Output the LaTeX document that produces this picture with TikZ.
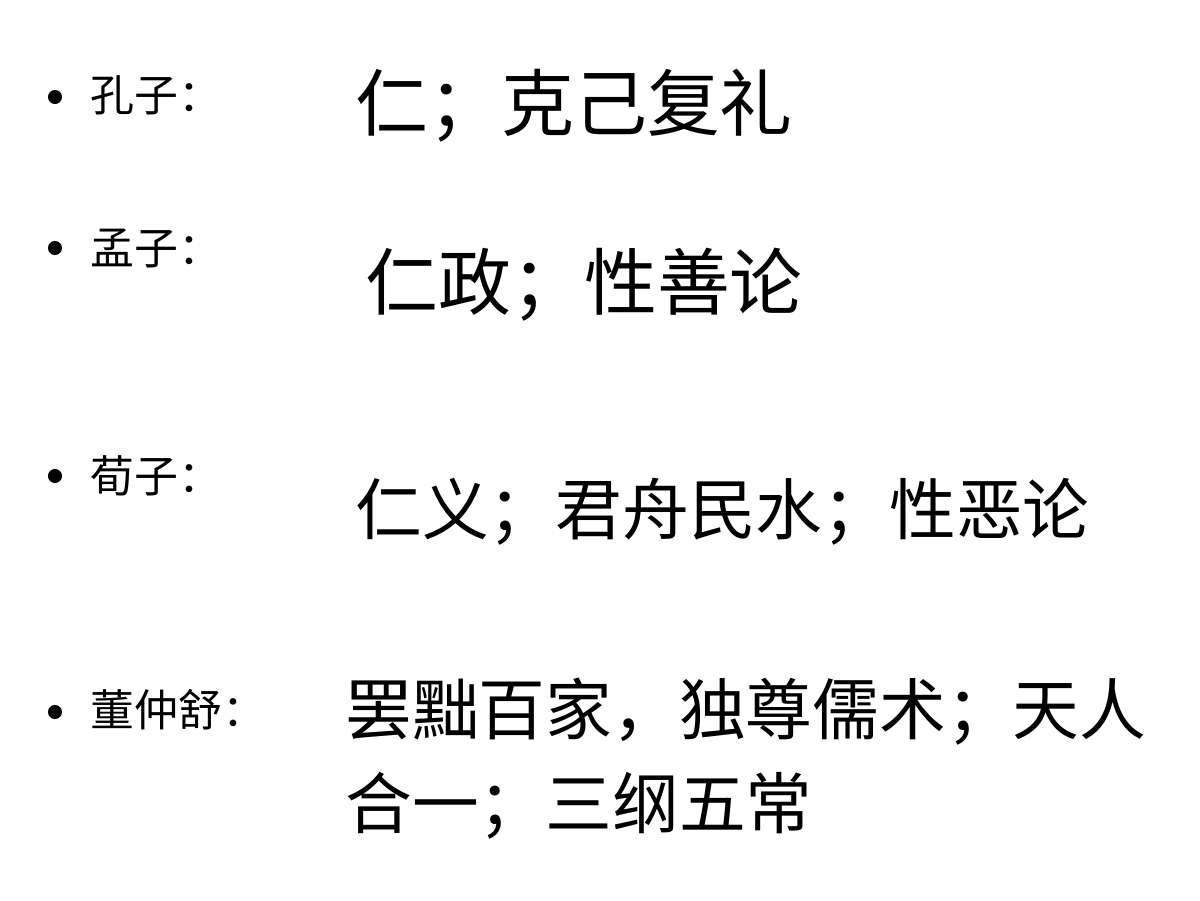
\documentclass[tikz,border=0pt]{standalone}
\usepackage{fontspec}
\newfontfamily\cjk{Noto Sans CJK SC}
\usetikzlibrary{positioning}
\tikzset{
  dot/.style={circle, fill=black, inner sep=0pt, minimum size=8pt},
  who/.style={anchor=west, inner sep=0pt, font=\cjk\fontsize{25}{30}\selectfont},
  idea/.style={anchor=west, inner sep=0pt, align=left, font=\cjk\fontsize{38}{53}\selectfont},
  bigidea/.style={idea, font=\cjk\fontsize{41.5}{50}\selectfont}
}
\begin{document}
\begin{tikzpicture}[x=0.02cm, y=-0.02cm]
  \useasboundingbox (0,0) rectangle (1200,900);
  \node[dot] (b1) at (55,97) {};
  \node[who] (kongzi) at (90,95) {孔子：};
  \node[bigidea] (ren) at (355,106) {仁；克己复礼};

  \node[dot] (b2) at (55,248) {};
  \node[who] (mengzi) at (90,248) {孟子：};
  \node[bigidea] (renzheng) at (365,285) {仁政；性善论};

  \node[dot] (b3) at (55,476) {};
  \node[who] (xunzi) at (90,476) {荀子：};
  \node[idea] (renyi) at (355,512) {仁义；君舟民水；性恶论};

  \node[dot] (b4) at (55,712) {};
  \node[who] (dong) at (90,710) {董仲舒：};
  \node[idea, anchor=north west] (bachu) at (345,678) {罢黜百家，独尊儒术；天人\\合一；三纲五常};
\end{tikzpicture}
\end{document}
